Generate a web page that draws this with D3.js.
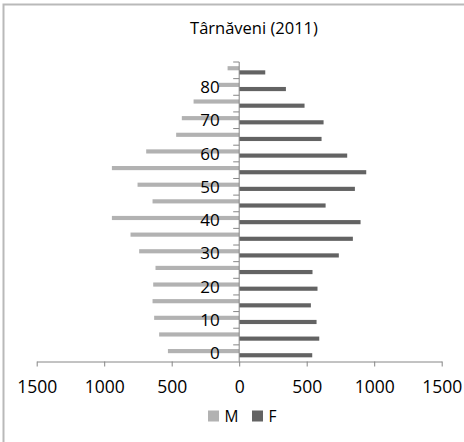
<!DOCTYPE html>
<html><head><meta charset="utf-8">
<script src="https://cdn.jsdelivr.net/npm/d3@7"></script>
<style>
html,body{margin:0;padding:0;background:#fff;}
svg{display:block;font-family:"Open Sans",sans-serif;}
</style></head>
<body>
<svg id="c" width="464" height="442"></svg>
<script>
const ages = [0,5,10,15,20,25,30,35,40,45,50,55,60,65,70,75,80,85];
const male = [528,593,630,642,637,620,741,805,943,642,753,943,689,467,425,338,150,86];
const female = [541,593,573,531,580,543,738,842,899,640,857,941,800,610,625,484,346,193];
const series = ["M","F"];
const colors = {M:"#b2b2b2", F:"#636363"};
const xTicks = [-1500,-1000,-500,0,500,1000,1500];
const yLabels = [0,10,20,30,40,50,60,70,80];
const title = "Târnăveni (2011)";

const svg = d3.select("#c");
// chart frame (partially cropped)
svg.append("rect").attr("x",3.5).attr("y",4.5).attr("width",520).attr("height",500)
  .attr("fill","none").attr("stroke","#b9b9b9").attr("stroke-width",2);

const x = d3.scaleLinear().domain([-1500,1500]).range([36.7,441.7]);
const y = d3.scaleBand().domain(ages.slice().reverse()).range([62,361.5]).padding(0);
const step = y.step();
const ys = d3.scaleBand().domain(series).range([step*0.25, step*0.75]).padding(0);

const data = ages.map((a,i)=>({age:a, M:male[i], F:female[i]}));
const g = svg.append("g");
data.forEach(d=>{
  series.forEach(s=>{
    const v = s==="M" ? -d[s] : d[s];
    g.append("rect")
      .attr("x", Math.min(x(0), x(v)))
      .attr("y", y(d.age)+ys(s))
      .attr("width", Math.abs(x(v)-x(0)))
      .attr("height", ys.bandwidth())
      .attr("fill", colors[s]);
  });
});

// x axis
const xa = svg.append("g").attr("transform",`translate(0,${y.range()[1]})`)
  .call(d3.axisBottom(x).tickValues(xTicks).tickSize(5).tickSizeOuter(0).tickPadding(14)
    .tickFormat(d=>Math.abs(d)));
xa.select(".domain").attr("stroke","#868686");
xa.selectAll(".tick line").attr("stroke","#868686");
xa.selectAll("text").attr("fill","#000").style("font-size","17.5px").style("font-family","'Open Sans',sans-serif");

// y axis (category)
const ya = svg.append("g");
ya.append("line").attr("x1",x(0)).attr("x2",x(0)).attr("y1",y.range()[0]).attr("y2",y.range()[1])
  .attr("stroke","#868686");
ages.forEach(a=>{
  ya.append("line").attr("x1",x(0)-6).attr("x2",x(0))
    .attr("y1",y(a)).attr("y2",y(a)).attr("stroke","#868686");
});
yLabels.forEach(a=>{
  ya.append("text").attr("x",x(0)-19.5).attr("y",y(a)+step/2).attr("dy","0.36em")
    .attr("text-anchor","end").style("font-size","17px").text(a);
});

// title
svg.append("text").attr("x",254).attr("y",34).attr("text-anchor","middle")
  .style("font-size","16.5px").text(title);

// legend
const leg = [{s:"M",x:208},{s:"F",x:252}];
leg.forEach(l=>{
  svg.append("rect").attr("x",l.x).attr("y",410.5).attr("width",11).attr("height",11).attr("fill",colors[l.s]);
  svg.append("text").attr("x",l.x+16.5).attr("y",421.7).style("font-size","15.5px").text(l.s);
});
</script>
</body></html>
